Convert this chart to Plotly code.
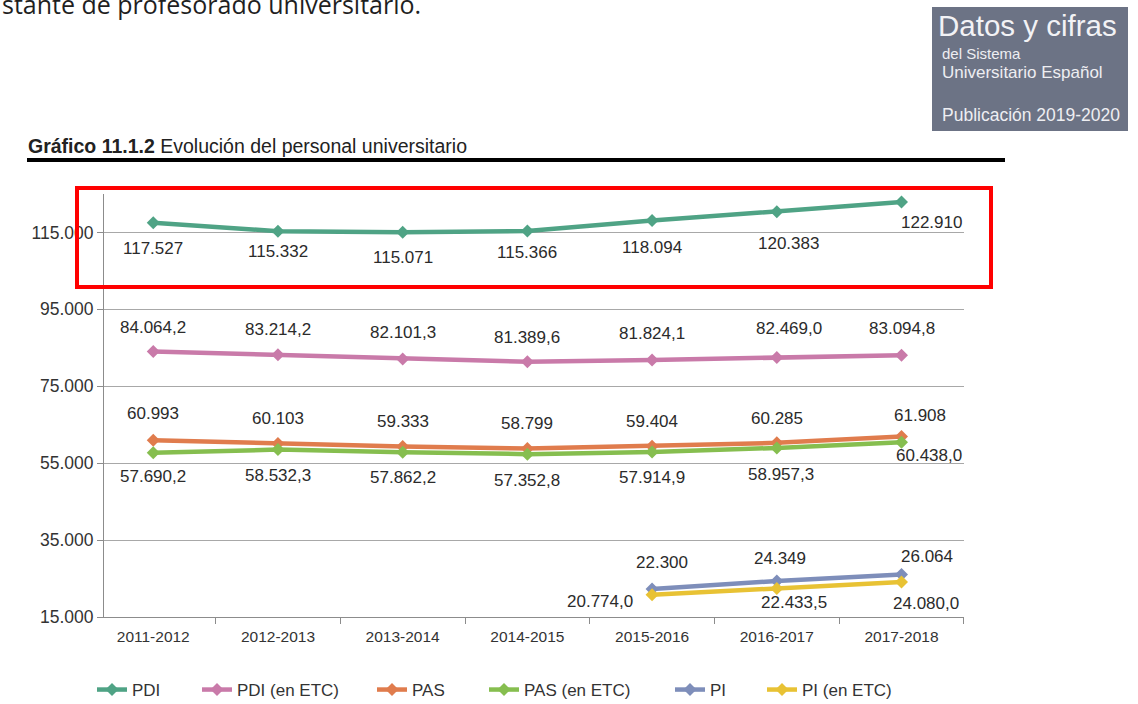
import plotly.graph_objects as go

YEARS = ["2011-2012", "2012-2013", "2013-2014", "2014-2015", "2015-2016", "2016-2017", "2017-2018"]
PDI = [117527, 115332, 115071, 115366, 118094, 120383, 122910]
PDI_ETC = [84064.2, 83214.2, 82101.3, 81389.6, 81824.1, 82469.0, 83094.8]
PAS = [60993, 60103, 59333, 58799, 59404, 60285, 61908]
PAS_ETC = [57690.2, 58532.3, 57862.2, 57352.8, 57914.9, 58957.3, 60438.0]
PI = [None, None, None, None, 22300, 24349, 26064]
PI_ETC = [None, None, None, None, 20774.0, 22433.5, 24080.0]
Y_TICKS = [15000, 35000, 55000, 75000, 95000, 115000]

FONT = "Liberation Sans, Arial, sans-serif"

# name, values, decimals, colour, label offsets (px, x right / y up), legend x (px)
SERIES = [
    ("PDI", PDI, 0, "#4fa385",
     [(0, -26), (0, -20), (0, -25), (0, -21), (0, -27), (12, -32), (30, -20)], 100),
    ("PDI (en ETC)", PDI_ETC, 1, "#c97aa9",
     [(0, 24), (0, 25), (0, 26), (0, 24), (0, 27), (12, 29), (0, 27)], 205),
    ("PAS", PAS, 0, "#e07c4d",
     [(0, 27), (0, 25), (0, 25), (0, 25), (0, 25), (0, 24), (18, 21)], 380),
    ("PAS (en ETC)", PAS_ETC, 1, "#86be4f",
     [(0, -24), (0, -26), (0, -25), (0, -26), (0, -26), (4, -27), (27, -13)], 492),
    ("PI", PI, 0, "#7e8eba",
     [None, None, None, None, (10, 26), (3, 23), (25, 18)], 678),
    ("PI (en ETC)", PI_ETC, 1, "#e8c234",
     [None, None, None, None, (-52, -7), (17, -14), (24, -21)], 770),
]

# plot area in pixels
L, R, T, B = 104, 964, 194, 617
W, H = 1138, 704


def px_x(p):
    return (p - L) / (R - L)


def px_y(p):
    return (B - p) / (B - T)


def es_number(value, decimals):
    text = f"{value:,.{decimals}f}"
    return text.replace(",", "_").replace(".", ",").replace("_", ".")


fig = go.Figure()
annotations = []
legends = {}
for i, (name, values, decimals, colour, offsets, legend_x) in enumerate(SERIES):
    key = "legend" if i == 0 else f"legend{i + 1}"
    legends[key] = {
        "x": px_x(legend_x - 8),
        "y": px_y(690),
        "xanchor": "left",
        "yanchor": "middle",
        "bgcolor": "rgba(0,0,0,0)",
        "font": {"family": FONT, "size": 17, "color": "#333333"},
    }
    fig.add_trace(
        go.Scatter(
            x=YEARS,
            y=values,
            mode="lines+markers",
            name=name,
            legend=key,
            line={"color": colour, "width": 4.5},
            marker={"symbol": "diamond", "size": 10, "color": colour},
        )
    )
    for year, value, offset in zip(YEARS, values, offsets):
        if value is None:
            continue
        annotations.append(
            dict(
                x=year, y=value, xref="x", yref="y",
                text=es_number(value, decimals),
                showarrow=False, xshift=offset[0], yshift=offset[1],
                font={"family": FONT, "size": 17, "color": "#2b2b2b"},
            )
        )

# header texts
annotations += [
    dict(x=px_x(0), y=px_y(4), xref="paper", yref="paper", xanchor="left", yanchor="middle",
         text="stante de profesorado universitario.", showarrow=False,
         font={"family": "Open Sans, sans-serif", "size": 25, "color": "#1f1f1f"}),
    dict(x=px_x(26), y=px_y(146), xref="paper", yref="paper", xanchor="left", yanchor="middle",
         text="<b>Gráfico 11.1.2</b> Evolución del personal universitario", showarrow=False,
         font={"family": FONT, "size": 19.5, "color": "#222222"}),
    dict(x=px_x(936), y=px_y(25), xref="paper", yref="paper", xanchor="left", yanchor="middle",
         text="Datos y cifras", showarrow=False,
         font={"family": FONT, "size": 29.5, "color": "#f2f2f5"}),
    dict(x=px_x(940), y=px_y(53), xref="paper", yref="paper", xanchor="left", yanchor="middle",
         text="del Sistema", showarrow=False,
         font={"family": FONT, "size": 15, "color": "#eeeef2"}),
    dict(x=px_x(940), y=px_y(72), xref="paper", yref="paper", xanchor="left", yanchor="middle",
         text="Universitario Español", showarrow=False,
         font={"family": FONT, "size": 17, "color": "#eeeef2"}),
    dict(x=px_x(940), y=px_y(115), xref="paper", yref="paper", xanchor="left", yanchor="middle",
         text="Publicación 2019-2020", showarrow=False,
         font={"family": FONT, "size": 17.5, "color": "#eeeef2"}),
]

shapes = [
    dict(type="rect", xref="paper", yref="paper", x0=px_x(932), x1=px_x(1128),
         y0=px_y(7), y1=px_y(131), fillcolor="#6c7385", line={"width": 0}, layer="below"),
    dict(type="rect", xref="paper", yref="paper", x0=px_x(27), x1=px_x(1005),
         y0=px_y(158), y1=px_y(162), fillcolor="#000000", line={"width": 0}),
    dict(type="rect", xref="paper", yref="paper", x0=px_x(77), x1=px_x(991),
         y0=px_y(188), y1=px_y(287), line={"color": "#ff0000", "width": 4}),
]

fig.update_layout(
    width=W,
    height=H,
    autosize=False,
    margin={"l": L, "r": W - R, "t": T, "b": H - B, "autoexpand": False},
    paper_bgcolor="white",
    plot_bgcolor="white",
    separators=",.",
    font={"family": FONT, "size": 14, "color": "#333333"},
    annotations=annotations,
    shapes=shapes,
    showlegend=True,
    **legends,
)
fig.update_xaxes(
    type="category",
    showline=True,
    linecolor="#8c8c8c",
    linewidth=1,
    showgrid=False,
    ticks="outside",
    tickson="boundaries",
    ticklen=6,
    tickcolor="#8c8c8c",
    ticklabelstandoff=5,
    tickfont={"family": FONT, "size": 15.5, "color": "#333333"},
)
fig.update_yaxes(
    range=[15000, 125000],
    tickvals=Y_TICKS,
    tickformat=",.0f",
    showline=True,
    linecolor="#8c8c8c",
    linewidth=1,
    showgrid=True,
    gridcolor="#a8a8a8",
    gridwidth=1,
    zeroline=False,
    ticks="outside",
    ticklen=6,
    tickcolor="#8c8c8c",
    tickfont={"family": FONT, "size": 17.5, "color": "#333333"},
)

# the page body has a default 8px margin; drop it so the figure sits at (0, 0)
fig.write_html(
    "out.html",
    config={"displayModeBar": False},
    post_script="document.body.style.margin = '0';",
)
